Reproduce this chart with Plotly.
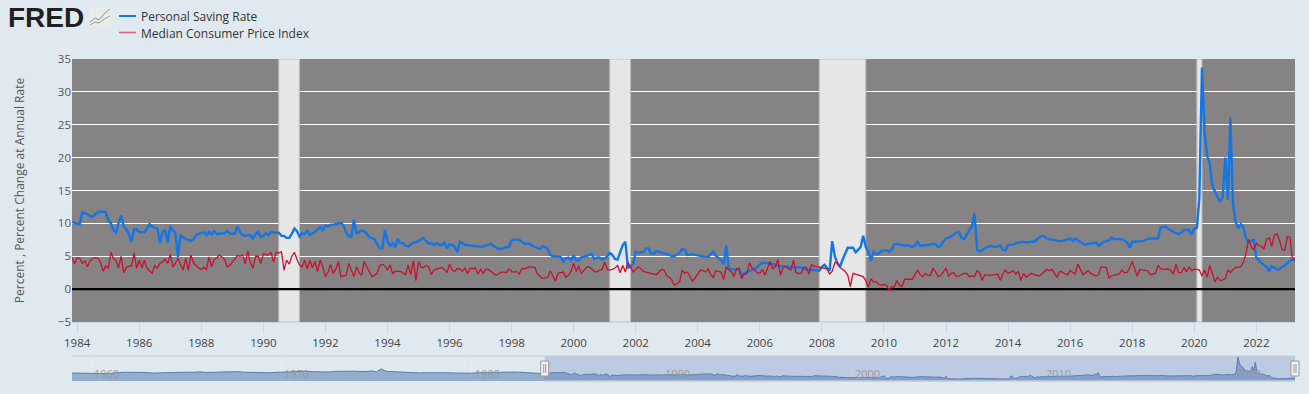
import pandas as pd
import plotly.graph_objects as go

saving_rate = [
    10.2, 10.0,
    9.9, 9.9, 11.7, 11.5, 11.4, 11.1, 11.0, 11.4, 11.7, 11.8, 11.8, 11.7,
    10.5, 10.0, 9.0, 8.6, 10.0, 11.2, 9.6, 9.1, 8.4, 7.2, 9.1, 9.1,
    8.7, 8.6, 8.6, 9.2, 9.9, 9.5, 9.4, 9.2, 7.0, 8.7, 8.9, 7.1,
    9.6, 8.9, 8.6, 4.9, 8.2, 7.9, 7.6, 7.5, 7.3, 7.6, 8.2, 8.4,
    8.6, 8.7, 8.2, 8.7, 8.3, 8.8, 8.4, 8.4, 8.5, 8.5, 8.8, 8.5,
    8.4, 8.5, 9.5, 8.7, 8.2, 8.1, 8.2, 8.2, 7.7, 8.4, 8.7, 7.9,
    8.1, 8.5, 8.2, 8.7, 8.6, 8.6, 8.6, 8.1, 8.1, 7.8, 7.8, 8.4,
    9.2, 8.8, 8.0, 8.5, 8.4, 8.9, 8.2, 8.5, 8.7, 9.1, 9.4, 9.0,
    9.7, 9.5, 9.8, 9.8, 9.9, 9.9, 10.1, 9.7, 8.6, 8.0, 8.0, 10.5,
    8.5, 8.7, 8.9, 8.8, 8.5, 7.9, 7.7, 7.6, 6.8, 6.2, 6.2, 9.0,
    7.2, 6.6, 7.0, 6.4, 7.7, 7.0, 7.0, 6.6, 6.5, 6.8, 7.1, 7.1,
    7.3, 7.6, 7.8, 7.3, 6.9, 7.0, 6.7, 7.0, 6.7, 6.7, 7.1, 6.2,
    6.8, 6.7, 6.5, 5.6, 7.2, 7.0, 6.7, 6.7, 6.6, 6.6, 6.5, 6.5,
    6.4, 6.5, 6.6, 6.7, 6.9, 6.6, 6.3, 6.1, 6.1, 6.3, 6.4, 6.4,
    7.4, 7.5, 7.5, 7.5, 7.2, 6.9, 6.9, 6.9, 6.6, 6.4, 6.2, 6.1,
    6.5, 6.4, 6.1, 5.2, 5.0, 5.0, 4.9, 4.9, 4.2, 4.7, 4.8, 4.4,
    5.1, 4.4, 4.4, 4.9, 4.9, 5.0, 5.2, 5.3, 4.6, 4.8, 4.8, 4.5,
    4.7, 5.0, 5.5, 5.2, 4.6, 4.5, 5.6, 6.7, 7.2, 3.2, 3.5, 3.8,
    5.7, 5.5, 5.6, 5.6, 6.2, 6.2, 5.4, 5.4, 5.8, 5.7, 5.6, 5.4,
    5.4, 5.2, 5.0, 5.0, 5.3, 5.5, 6.1, 6.0, 5.2, 5.3, 5.3, 5.2,
    5.1, 5.1, 5.0, 4.9, 4.9, 5.3, 5.7, 5.1, 4.7, 4.4, 3.8, 6.6,
    3.1, 3.1, 3.0, 2.9, 3.1, 2.0, 2.4, 2.6, 2.8, 3.0, 3.2, 3.3,
    3.8, 4.0, 4.0, 4.0, 3.9, 3.8, 3.7, 3.5, 3.5, 3.5, 3.5, 3.4,
    3.3, 3.3, 3.3, 3.4, 3.3, 3.1, 3.0, 3.0, 2.9, 2.9, 2.9, 2.8,
    3.4, 3.7, 3.2, 2.8, 7.3, 5.0, 3.9, 3.4, 4.5, 5.4, 6.3, 6.3,
    6.3, 5.6, 6.0, 6.4, 8.1, 6.4, 5.7, 4.3, 5.7, 5.3, 5.4, 5.8,
    5.9, 5.9, 5.7, 6.0, 6.8, 6.9, 6.8, 6.7, 6.6, 6.7, 6.6, 6.4,
    6.6, 7.2, 6.6, 6.6, 6.6, 6.7, 6.8, 6.9, 6.8, 6.4, 6.6, 7.3,
    7.7, 7.8, 8.0, 8.3, 8.6, 8.7, 7.8, 7.6, 8.3, 8.9, 9.6, 11.5,
    6.0, 5.7, 5.9, 6.2, 6.4, 6.6, 6.5, 6.4, 6.5, 6.6, 6.0, 5.9,
    6.7, 6.7, 6.8, 7.0, 7.1, 7.2, 7.2, 7.1, 7.2, 7.2, 7.2, 7.5,
    7.8, 8.1, 8.1, 7.7, 7.6, 7.5, 7.4, 7.3, 7.3, 7.3, 7.4, 7.5,
    7.7, 7.3, 7.7, 7.4, 7.2, 6.9, 6.7, 6.9, 6.9, 7.0, 7.1, 6.6,
    6.9, 7.2, 7.3, 7.4, 7.8, 7.6, 7.6, 7.6, 7.6, 7.4, 7.1, 6.3,
    7.2, 7.2, 7.3, 7.3, 7.3, 7.5, 7.6, 7.7, 7.7, 7.7, 7.7, 9.4,
    9.4, 9.5, 9.2, 8.9, 8.7, 8.5, 8.4, 8.6, 9.0, 9.0, 9.0, 8.3,
    9.2, 9.3, 13.8, 33.7, 24.1, 20.2, 19.2, 15.7, 14.7, 14.0, 13.3, 14.0,
    20.0, 13.6, 26.1, 13.0, 10.3, 9.2, 9.9, 9.4, 7.7, 7.2, 7.3, 7.5,
    4.8, 4.4, 3.9, 3.6, 3.4, 2.7, 3.5, 3.2, 3.0, 3.0, 3.4, 3.6,
    4.0, 4.3, 4.5, 4.3,
]

median_cpi = [
    4.9, 3.8,
    4.8, 4.7, 3.9, 4.3, 3.4, 4.3, 4.7, 4.8, 4.7, 4.1, 2.7, 3.5,
    3.2, 5.6, 4.7, 4.4, 3.2, 5.0, 2.5, 3.3, 3.5, 3.5, 5.5, 3.2,
    4.4, 3.2, 4.4, 3.2, 2.8, 2.4, 3.6, 3.2, 3.9, 4.1, 4.6, 3.9,
    5.3, 3.4, 3.9, 4.7, 3.8, 2.9, 4.7, 2.9, 5.2, 4.0, 3.6, 3.2,
    3.0, 3.3, 3.0, 4.9, 3.4, 4.5, 4.7, 5.2, 4.9, 4.5, 3.4, 3.6,
    4.1, 4.6, 5.1, 5.0, 5.2, 3.8, 5.8, 4.0, 3.2, 5.0, 5.0, 3.9,
    5.4, 5.2, 5.2, 5.6, 4.1, 5.6, 5.5, 5.7, 2.9, 4.4, 3.8, 5.0,
    5.6, 4.5, 3.7, 3.4, 4.4, 3.1, 4.4, 3.2, 4.2, 2.7, 4.4, 3.4,
    1.9, 2.6, 3.7, 2.4, 3.0, 4.2, 1.9, 2.0, 2.1, 3.9, 3.0, 1.9,
    3.4, 2.5, 2.1, 4.2, 3.4, 2.7, 1.9, 2.1, 2.4, 3.6, 3.8, 3.5,
    2.9, 3.7, 2.4, 2.7, 2.7, 2.7, 2.5, 2.2, 3.7, 2.2, 4.3, 1.3,
    4.2, 3.3, 3.3, 3.6, 3.4, 2.2, 2.9, 3.1, 3.2, 3.3, 3.0, 2.5,
    3.8, 2.9, 2.7, 3.1, 3.1, 2.7, 3.2, 2.4, 3.2, 3.1, 3.2, 2.3,
    3.0, 2.4, 3.0, 3.0, 2.7, 2.3, 2.1, 2.3, 2.6, 2.6, 2.5, 3.1,
    2.7, 2.6, 2.7, 2.3, 3.1, 3.1, 3.3, 3.4, 3.3, 3.3, 2.3, 2.0,
    1.6, 1.7, 1.8, 2.8, 1.9, 1.2, 2.4, 2.5, 2.6, 1.8, 2.1, 2.7,
    3.9, 2.7, 3.5, 2.4, 2.9, 3.3, 3.4, 3.0, 2.7, 2.6, 2.9, 3.0,
    4.1, 3.0, 2.9, 3.0, 3.2, 3.6, 2.5, 3.6, 2.6, 4.1, 3.4, 2.6,
    3.0, 3.4, 3.1, 2.7, 2.6, 2.5, 2.4, 2.3, 2.2, 2.6, 3.0, 2.9,
    2.0, 1.8, 1.4, 0.6, 0.9, 1.1, 2.9, 2.4, 2.6, 1.9, 1.2, 1.7,
    2.3, 2.9, 2.8, 2.6, 3.1, 2.2, 1.8, 2.8, 2.7, 2.6, 1.5, 3.4,
    2.9, 2.6, 1.9, 3.1, 3.1, 1.6, 2.3, 2.4, 4.0, 3.2, 2.9, 2.5,
    2.4, 3.0, 2.1, 3.2, 4.2, 3.1, 3.4, 4.5, 2.1, 3.3, 3.4, 3.1,
    2.9, 4.4, 2.5, 2.4, 2.4, 3.3, 3.3, 2.3, 3.7, 3.5, 3.4, 3.4,
    3.2, 3.2, 3.1, 2.3, 2.7, 4.0, 4.1, 3.3, 3.0, 2.7, 2.1, 0.4,
    2.4, 2.3, 2.1, 2.0, 1.9, 1.3, 0.3, 1.6, 1.1, 1.1, 0.7, 0.6,
    0.7, 0.6, -0.25, 0.4, 0.3, 1.3, 0.6, 0.4, 1.5, 1.5, 1.5, 1.5,
    2.2, 2.9, 2.2, 1.9, 2.4, 2.1, 2.1, 3.2, 2.6, 1.9, 2.1, 2.6,
    3.2, 1.9, 2.4, 2.5, 1.9, 2.0, 2.2, 2.4, 2.4, 1.9, 2.0, 1.9,
    2.8, 2.5, 1.3, 2.2, 2.1, 2.1, 2.1, 2.2, 2.3, 1.3, 2.4, 2.9,
    2.4, 2.6, 2.8, 2.3, 2.7, 1.3, 2.4, 1.8, 2.1, 2.4, 2.2, 2.1,
    2.0, 2.3, 2.7, 3.0, 2.8, 3.0, 2.4, 1.8, 2.7, 2.6, 2.3, 2.2,
    2.8, 2.5, 2.3, 3.8, 2.9, 2.2, 2.5, 2.8, 2.4, 2.2, 2.0, 2.2,
    3.4, 3.3, 3.3, 1.7, 2.0, 2.1, 2.2, 2.3, 2.9, 2.5, 2.5, 3.2,
    4.2, 3.0, 2.0, 3.0, 2.9, 2.9, 2.8, 2.2, 2.3, 2.4, 3.6, 3.1,
    3.0, 3.1, 3.1, 2.8, 2.3, 3.8, 2.5, 2.5, 3.3, 2.6, 3.4, 2.8,
    3.0, 3.0, 2.9, 2.0, 2.9, 1.8, 3.6, 2.4, 1.1, 1.8, 1.3, 1.4,
    1.6, 2.9, 2.5, 3.0, 3.3, 3.3, 3.4, 4.1, 5.4, 7.6, 6.4, 6.0,
    7.0, 6.6, 6.5, 6.1, 7.6, 7.8, 6.5, 8.2, 8.4, 7.4, 6.0, 5.9,
    8.0, 7.9, 4.6, 4.6,
]

# Quarterly reading of the overview strip before the zoomed range
overview_early = [
    11.0, 10.8, 10.6, 10.4, 10.4, 10.8, 10.4, 10.3, 10.6, 11.2, 12.0, 12.2,
    12.0, 11.6, 11.8, 12.0, 11.2, 11.0, 11.2, 11.4, 11.6, 12.2, 12.5, 12.4,
    12.2, 12.0, 12.5, 12.6, 11.8, 11.6, 12.0, 12.4, 12.6, 12.7, 12.6, 12.9,
    12.2, 12.0, 11.2, 11.8, 11.5, 11.4, 11.7, 12.1, 12.6, 13.0, 13.4, 13.6,
    13.5, 13.6, 13.0, 12.9, 12.3, 12.0, 12.4, 13.2, 13.0, 13.4, 13.5, 13.6,
    13.0, 13.1, 13.2, 14.0, 12.9, 16.8, 13.4, 13.0, 12.4, 12.0, 11.7, 11.4,
    11.0, 11.2, 11.4, 11.6, 11.4, 11.2, 11.3, 11.4, 11.2, 11.0, 10.6, 10.4,
    10.8, 11.4, 11.6, 12.0, 11.6, 11.8, 12.6, 12.4, 12.2, 12.4, 12.2, 11.6,
    11.0, 10.4, 10.0, 10.2,
]

years_major = list(range(1960, 2030, 10))
recessions = [
    ("1990-07-01", "1991-03-01"),
    ("2001-03-01", "2001-11-01"),
    ("2007-12-01", "2009-06-01"),
    ("2020-02-01", "2020-04-01"),
]
SERIES_NAMES = ["Personal Saving Rate", "Median Consumer Price Index"]
BLUE = "#1475E6"
RED = "#C9102F"
BG = "#E1E9F0"
FONT = "Open Sans"

dates = pd.date_range("1983-11-01", periods=len(saving_rate), freq="MS")
dates_cpi = pd.date_range("1983-11-01", periods=len(median_cpi), freq="MS")
dates_early = pd.date_range("1959-01-01", periods=len(overview_early), freq="QS")
NAV_START, NAV_END = pd.Timestamp("1959-01-01"), dates[-1]

W, H = 1309, 394
L, R, T, B = 72, 1295, 59, 381


def px(x):
    return (x - L) / (R - L)


def py(y):
    return (B - y) / (B - T)


def nav_paper(d):
    return (pd.Timestamp(d) - NAV_START) / (NAV_END - NAV_START)


fig = go.Figure()
fig.add_trace(go.Scatter(x=dates, y=saving_rate, name=SERIES_NAMES[0], mode="lines",
                         line=dict(color=BLUE, width=2.4), showlegend=False))
fig.add_trace(go.Scatter(x=dates_cpi, y=median_cpi, name=SERIES_NAMES[1], mode="lines",
                         line=dict(color=RED, width=1.3), showlegend=False))
fig.add_trace(go.Scatter(x=list(dates_early) + list(dates), y=overview_early + saving_rate,
                         mode="lines", xaxis="x2", yaxis="y2", showlegend=False, hoverinfo="skip",
                         fill="tozeroy", fillcolor="rgba(69,114,167,0.5)",
                         line=dict(color="rgba(69,114,167,0.85)", width=1)))

# main plot background
shapes = [dict(type="rect", xref="paper", yref="paper", x0=0, x1=1, y0=py(322), y1=1,
               fillcolor="#858383", line=dict(width=0), layer="below")]
for a, b in recessions:
    shapes.append(dict(type="rect", xref="x", yref="y", x0=a, x1=b, y0=-5, y1=35,
                       fillcolor="#E6E6E6", line=dict(color="#BDBDBD", width=1), layer="between"))
shapes.append(dict(type="line", xref="x", yref="y", x0=dates[0], x1=dates[-1], y0=0, y1=0,
                   line=dict(color="#000000", width=2.4), layer="between"))

# overview strip: selection mask, outline and handles
sel_a, sel_b = nav_paper(dates[0]), 1.0
shapes.append(dict(type="rect", xref="paper", yref="paper", x0=sel_a, x1=sel_b, y0=0, y1=py(356),
                   fillcolor="rgba(102,133,194,0.3)", line=dict(width=0), layer="above"))
shapes.append(dict(type="line", xref="paper", yref="paper", x0=0, x1=1, y0=py(356), y1=py(356),
                   line=dict(color="#CCCCCC", width=1), layer="above"))
shapes.append(dict(type="line", xref="paper", yref="paper", x0=sel_a, x1=sel_b, y0=0, y1=0,
                   line=dict(color="#C4CBD6", width=1.5), layer="above"))
for anchor in (sel_a, sel_b):
    shapes.append(dict(type="rect", xref="paper", yref="paper", xsizemode="pixel", xanchor=anchor,
                       x0=-4, x1=4, y0=py(376), y1=py(361), fillcolor="#F2F2F2",
                       line=dict(color="#999999", width=1), layer="above"))
    for off in (-1, 1):
        shapes.append(dict(type="line", xref="paper", yref="paper", xsizemode="pixel", xanchor=anchor,
                           x0=off, x1=off, y0=py(373), y1=py(364),
                           line=dict(color="#999999", width=1), layer="above"))

# legend keys
shapes.append(dict(type="line", xref="paper", yref="paper", x0=px(119), x1=px(136), y0=py(16), y1=py(16),
                   line=dict(color=BLUE, width=2)))
shapes.append(dict(type="line", xref="paper", yref="paper", x0=px(119), x1=px(136), y0=py(32.5), y1=py(32.5),
                   line=dict(color="#D8637A", width=1.6)))

# logo glyph
shapes.append(dict(type="rect", xref="paper", yref="paper", x0=px(89), x1=px(111), y0=py(27), y1=py(7),
                   fillcolor="#E9ECEC", line=dict(width=0)))


def poly(pts):
    return "M " + " L ".join(f"{px(a):.5f},{py(b):.5f}" for a, b in pts)


shapes.append(dict(type="path", xref="paper", yref="paper", path=poly([(90, 22), (95, 18), (99, 20), (104, 14), (110, 9)]),
                   line=dict(color="#7E93A8", width=1)))
shapes.append(dict(type="path", xref="paper", yref="paper", path=poly([(90, 25), (95, 22), (99, 23), (104, 19), (110, 16)]),
                   line=dict(color="#8FA86A", width=1)))

annotations = [
    dict(text="<b>FRED</b>", xref="paper", yref="paper", x=px(5.5), y=py(17.5), xanchor="left", yanchor="middle",
         showarrow=False, font=dict(family="Liberation Sans", size=28, color="#231F20")),
    dict(text=SERIES_NAMES[0], xref="paper", yref="paper", x=px(139), y=py(16.5), xanchor="left", yanchor="middle",
         showarrow=False, font=dict(family=FONT, size=12, color="#333333")),
    dict(text=SERIES_NAMES[1], xref="paper", yref="paper", x=px(139), y=py(33.5), xanchor="left", yanchor="middle",
         showarrow=False, font=dict(family=FONT, size=12, color="#333333")),
]
for yr in years_major:
    annotations.append(dict(text=str(yr), xref="x2", yref="paper", x=f"{yr}-01-01", y=py(373),
                            xanchor="left", yanchor="middle", xshift=1, showarrow=False,
                            font=dict(family=FONT, size=11, color="#999999")))

fig.update_layout(
    width=W, height=H, autosize=False,
    paper_bgcolor=BG, plot_bgcolor=BG,
    margin=dict(l=L, r=W - R, t=T, b=H - B, pad=0),
    font=dict(family=FONT, size=11, color="#555555"),
    hovermode=False,
    shapes=shapes, annotations=annotations,
    xaxis=dict(domain=[0, 1], anchor="y", type="date", automargin=False,
               range=[dates[0], dates[-1]], tick0="1984-01-01", dtick="M24", tickformat="%Y",
               ticks="outside", ticklen=10, tickcolor="#CCD6EB", tickwidth=1,
               showgrid=False, showline=True, linecolor="#CCD6EB", linewidth=1, zeroline=False,
               tickfont=dict(family=FONT, size=11.5, color="#444444")),
    yaxis=dict(domain=[py(322), 1], anchor="x", range=[-5, 35], tickvals=list(range(-5, 40, 5)),
               automargin=False,
               gridcolor="#FFFFFF", gridwidth=1, zeroline=False, showline=False, ticks="",
               tickfont=dict(family=FONT, size=11.5, color="#555555"),
               title=dict(text="Percent , Percent Change at Annual Rate", standoff=30,
                          font=dict(family=FONT, size=12, color="#555555"))),
    xaxis2=dict(domain=[0, 1], anchor="y2", type="date", range=[NAV_START, NAV_END], automargin=False,
                dtick="M120", tick0="1960-01-01", showticklabels=False, ticks="",
                showgrid=True, gridcolor="#E8EDF2", gridwidth=1, showline=False, zeroline=False),
    yaxis2=dict(domain=[0, py(356)], anchor="x2", range=[0, 34.5], visible=False, automargin=False),
)

fig.write_html("out.html", config=dict(displayModeBar=False),
               post_script="document.body.style.margin='0';document.documentElement.style.overflow='hidden';document.body.style.background='#E1E9F0';")
